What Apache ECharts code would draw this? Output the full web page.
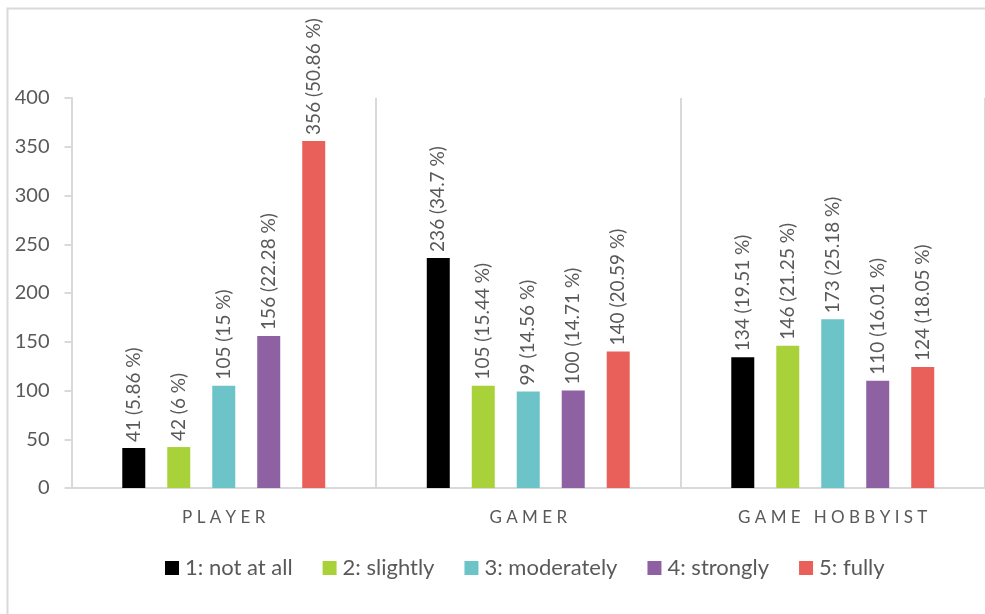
<!DOCTYPE html>
<html>
<head>
<meta charset="utf-8">
<script src="https://cdn.jsdelivr.net/npm/echarts@6/dist/echarts.min.js"></script>
<style>
  html, body { margin: 0; padding: 0; background: #ffffff; }
  #chart { width: 985px; height: 614px; }
</style>
</head>
<body>
<div id="chart"></div>
<script>
// Respondent groups along the x axis
const categories = ['PLAYER', 'GAMER', 'GAME HOBBYIST'];

// Agreement levels (one bar series each)
const levelNames = ['1: not at all', '2: slightly', '3: moderately', '4: strongly', '5: fully'];
const levelColors = ['#000000', '#a9d23a', '#6cc3c8', '#8e61a2', '#e9605b'];

// Counts per level, ordered PLAYER, GAMER, GAME HOBBYIST
const notAtAll   = [41, 236, 134];
const slightly   = [42, 105, 146];
const moderately = [105, 99, 173];
const strongly   = [156, 100, 110];
const fully      = [356, 140, 124];

// Share of each group's answers, in percent
const notAtAllPct   = [5.86, 34.7, 19.51];
const slightlyPct   = [6, 15.44, 21.25];
const moderatelyPct = [15, 14.56, 25.18];
const stronglyPct   = [22.28, 14.71, 16.01];
const fullyPct      = [50.86, 20.59, 18.05];

// Value axis ticks
const yTicks = [0, 50, 100, 150, 200, 250, 300, 350, 400];

const counts = [notAtAll, slightly, moderately, strongly, fully];
const pcts = [notAtAllPct, slightlyPct, moderatelyPct, stronglyPct, fullyPct];

const FONT = 'Lato, "Open Sans", sans-serif';
const TEXT = '#595959';
const LINE = '#d9d9d9';

const series = levelNames.map((name, i) => ({
  name: name,
  type: 'bar',
  barWidth: 23,
  barGap: '95.6%',
  itemStyle: { color: levelColors[i] },
  data: counts[i],
  label: {
    show: true,
    position: 'top',
    rotate: 90,
    align: 'left',
    verticalAlign: 'middle',
    distance: 6,
    fontFamily: FONT,
    fontSize: 19,
    color: TEXT,
    formatter: p => p.value + ' (' + pcts[i][p.dataIndex] + ' %)'
  }
}));

const chart = echarts.init(document.getElementById('chart'), null, { renderer: 'canvas' });
chart.setOption({
  animation: false,
  backgroundColor: '#ffffff',
  graphic: [{
    type: 'rect',
    shape: { x: 7.5, y: 8.5, width: 1000, height: 700 },
    style: { fill: 'none', stroke: LINE, lineWidth: 2 },
    silent: true,
    z: -1
  }],
  grid: { left: 71.5, top: 98, right: -8, bottom: 126, containLabel: false },
  legend: {
    left: 160,
    top: 552,
    itemWidth: 14,
    itemHeight: 14,
    itemGap: 30,
    icon: 'rect',
    textStyle: { fontFamily: FONT, fontSize: 22, color: TEXT, padding: [0, 0, 0, 1] },
    data: levelNames
  },
  xAxis: {
    type: 'category',
    data: categories,
    axisLine: { show: true, lineStyle: { color: LINE, width: 2 } },
    axisTick: { show: false },
    splitLine: { show: true, lineStyle: { color: LINE, width: 2 } },
    axisLabel: {
      margin: 21,
      fontFamily: FONT,
      fontSize: 17,
      color: TEXT,
      formatter: v => v.split('').join(' ')
    }
  },
  yAxis: {
    type: 'value',
    min: yTicks[0],
    max: yTicks[yTicks.length - 1],
    interval: yTicks[1] - yTicks[0],
    axisLine: { show: true, lineStyle: { color: LINE, width: 2 } },
    axisTick: { show: true, length: 7, lineStyle: { color: LINE, width: 2 } },
    splitLine: { show: false },
    axisLabel: {
      margin: 22,
      fontFamily: FONT,
      fontSize: 20,
      color: TEXT
    }
  },
  series: series
});
</script>
</body>
</html>
